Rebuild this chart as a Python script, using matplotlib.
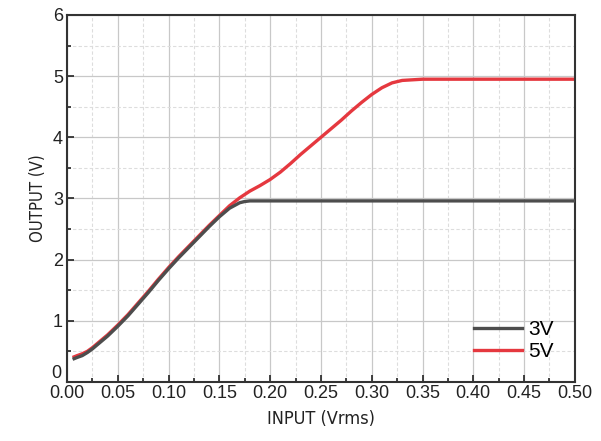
import numpy as np
import matplotlib.pyplot as plt
from matplotlib.ticker import MultipleLocator, FormatStrFormatter, FuncFormatter

# input (Vrms) vs output (V)
x3 = [0.007, 0.01, 0.015, 0.02, 0.025, 0.03, 0.04, 0.05, 0.06, 0.07, 0.08,
      0.09, 0.10, 0.11, 0.12, 0.13, 0.14, 0.15, 0.16, 0.17, 0.175, 0.18, 0.19,
      0.20, 0.25, 0.30, 0.35, 0.40, 0.45, 0.50]
y3 = [0.38, 0.40, 0.43, 0.48, 0.54, 0.61, 0.75, 0.91, 1.08, 1.27, 1.46,
      1.66, 1.85, 2.03, 2.20, 2.37, 2.54, 2.70, 2.84, 2.93, 2.95, 2.96, 2.96,
      2.96, 2.96, 2.96, 2.96, 2.96, 2.96, 2.96]

x5 = [0.007, 0.01, 0.015, 0.02, 0.025, 0.03, 0.04, 0.05, 0.06, 0.07, 0.08,
      0.09, 0.10, 0.11, 0.12, 0.13, 0.14, 0.15, 0.16, 0.17, 0.18, 0.19, 0.20,
      0.21, 0.22, 0.23, 0.24, 0.25, 0.26, 0.27, 0.28, 0.29, 0.30, 0.31, 0.32,
      0.33, 0.34, 0.35, 0.40, 0.45, 0.50]
y5 = [0.41, 0.43, 0.46, 0.50, 0.56, 0.63, 0.77, 0.93, 1.10, 1.29, 1.48,
      1.68, 1.87, 2.05, 2.22, 2.39, 2.56, 2.72, 2.88, 3.01, 3.12, 3.21, 3.31,
      3.43, 3.57, 3.72, 3.86, 4.00, 4.14, 4.28, 4.43, 4.57, 4.70, 4.81, 4.89,
      4.93, 4.94, 4.95, 4.95, 4.95, 4.95]

plt.rcParams['font.family'] = ['Liberation Sans', 'DejaVu Sans']

fig = plt.figure(figsize=(6.01, 4.41), dpi=100)
ax = fig.add_axes([0.1115, 0.134, 0.845, 0.832])

ax.plot(x3, y3, color='#4d4d4d', lw=2.4, label='3V', zorder=3)
ax.plot(x5, y5, color='#e5383f', lw=2.4, label='5V', zorder=2)

ax.set_xlim(0, 0.5)
ax.set_ylim(0, 6)
ax.xaxis.set_major_locator(MultipleLocator(0.05))
ax.xaxis.set_minor_locator(MultipleLocator(0.025))
ax.yaxis.set_major_locator(MultipleLocator(1))
ax.yaxis.set_minor_locator(MultipleLocator(0.5))
ax.xaxis.set_major_formatter(FormatStrFormatter('%.2f'))
# the y "0" is drawn by hand below so it sits just above "0.00"
ax.yaxis.set_major_formatter(FuncFormatter(lambda v, p: '' if v == 0 else '%d' % v))

ax.grid(which='major', color='#c8c8c8', lw=0.9)
ax.grid(which='minor', color='#dddddd', lw=0.8, ls=(0, (3, 2)))
ax.set_axisbelow(True)

ax.tick_params(which='both', direction='in', top=False, right=False,
               labelsize=13, colors='#222222', width=1.2)
ax.tick_params(which='major', length=5, pad=3)
ax.tick_params(axis='x', which='major', pad=2)
ax.tick_params(which='minor', length=3)
for s in ax.spines.values():
    s.set_linewidth(1.5)
    s.set_color('#333333')

ax.text(-0.012, 0, '0', transform=ax.get_yaxis_transform(), ha='right',
        va='bottom', fontsize=13, color='#222222')

ax.set_xlabel('INPUT (Vrms)', fontsize=13, family='DejaVu Sans',
              fontstretch='condensed', color='#222222', labelpad=6)
ax.set_ylabel('OUTPUT (V)', fontsize=12, family='DejaVu Sans',
              fontstretch='condensed', color='#222222', labelpad=4)

ax.legend(loc='lower right', frameon=False, fontsize=15, handlelength=2.3,
          handletextpad=0.3, labelspacing=0.15, borderaxespad=0.6)

fig.savefig('out.png', dpi=100)
